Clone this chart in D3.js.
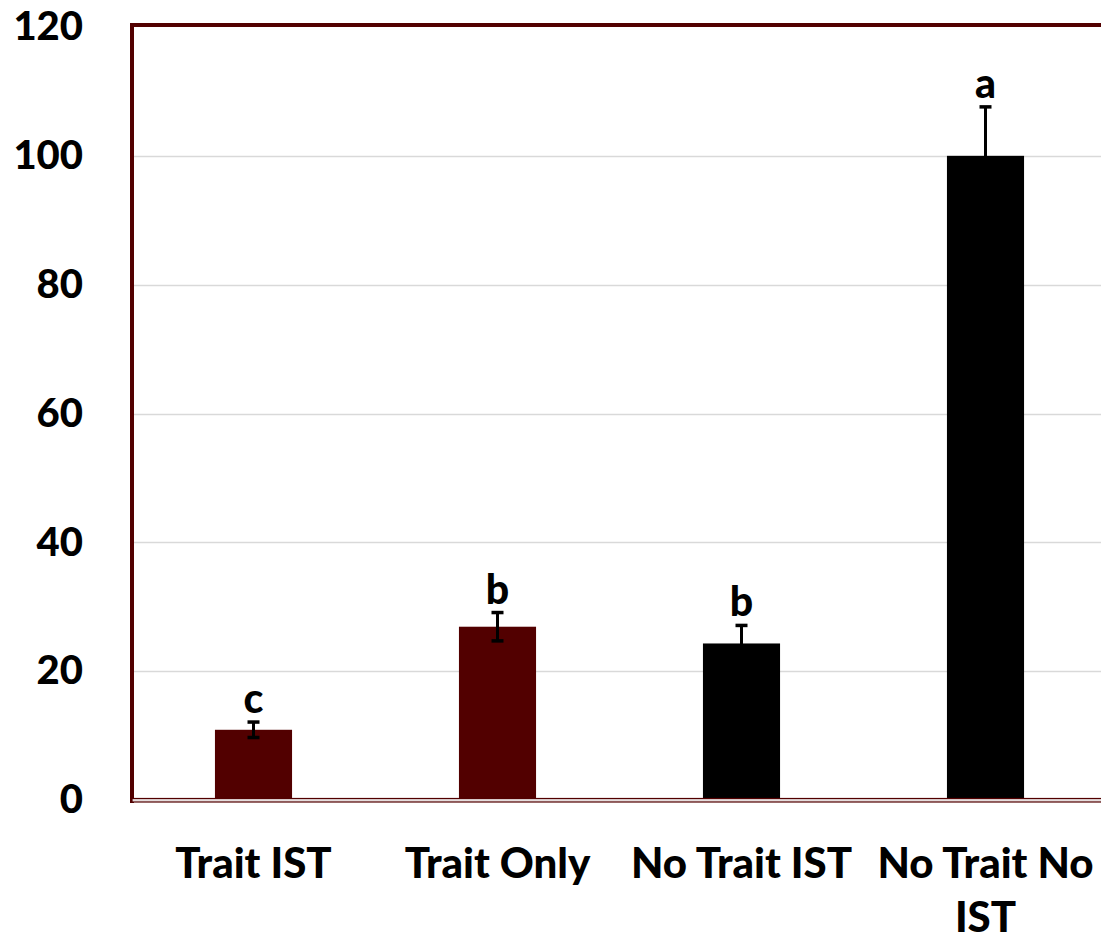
<!DOCTYPE html>
<html>
<head>
<meta charset="utf-8">
<script src="https://cdn.jsdelivr.net/npm/d3@7"></script>
<style>
  html, body { margin: 0; padding: 0; background: #ffffff; }
  svg { display: block; }
  text { font-family: Lato, "Open Sans", sans-serif; font-weight: 900; fill: #000; }
</style>
</head>
<body>
<svg id="chart" width="1101" height="940"></svg>
<script>
const categories = ["Trait IST", "Trait Only", "No Trait IST", "No Trait No IST"];
const values = [10.9, 26.9, 24.3, 100];
const errors = [1.2, 2.2, 2.8, 7.6];
const letters = ["c", "b", "b", "a"];
const barColors = ["#520000", "#520000", "#000000", "#000000"];
const yTicks = [0, 20, 40, 60, 80, 100, 120];

const svg = d3.select("#chart");
const W = 1101, H = 940;
const plot = { left: 134, top: 27, right: 1107.5, bottom: 800 };
const borderColor = "#520000";

const y = d3.scaleLinear().domain([0, 120]).range([plot.bottom, plot.top]);
const x = d3.scaleBand().domain(categories)
  .range([131.5, 1107.5]).paddingInner(0.684).paddingOuter(0.342);

// gridlines
svg.append("g").selectAll("line").data(yTicks.filter(d => d > 0 && d < 120)).join("line")
  .attr("x1", plot.left).attr("x2", W)
  .attr("y1", d => Math.round(y(d)) + 0.5).attr("y2", d => Math.round(y(d)) + 0.5)
  .attr("stroke", "#d9d9d9").attr("stroke-width", 1.5);

// y axis labels
const yAxis = d3.axisLeft(y).tickValues(yTicks).tickSize(0).tickPadding(0);
const gy = svg.append("g").attr("transform", "translate(83,0)").call(yAxis);
gy.select(".domain").remove();
gy.selectAll("text").attr("font-size", 40).attr("font-family", "Lato, sans-serif")
  .attr("font-weight", 900).attr("fill", "#000").attr("dy", "0.32em");

// bars
svg.append("g").selectAll("rect").data(categories).join("rect")
  .attr("x", d => x(d)).attr("width", x.bandwidth())
  .attr("y", (d, i) => y(values[i])).attr("height", (d, i) => y(0) - y(values[i]))
  .attr("fill", (d, i) => barColors[i]);

// error bars
const eb = svg.append("g").attr("stroke", "#000");
categories.forEach((c, i) => {
  const cx = x(c) + x.bandwidth() / 2;
  const y1 = y(values[i] + errors[i]), y0 = y(values[i] - errors[i]);
  eb.append("line").attr("x1", cx).attr("x2", cx).attr("y1", y1).attr("y2", y0).attr("stroke-width", 3);
  eb.append("line").attr("x1", cx - 6).attr("x2", cx + 6).attr("y1", y1).attr("y2", y1).attr("stroke-width", 3.5);
  eb.append("line").attr("x1", cx - 6).attr("x2", cx + 6).attr("y1", y0).attr("y2", y0).attr("stroke-width", 3.5);
});

// significance letters
svg.append("g").selectAll("text").data(categories).join("text")
  .attr("x", d => x(d) + x.bandwidth() / 2)
  .attr("y", (d, i) => y(values[i] + errors[i]) - 9)
  .attr("text-anchor", "middle").attr("font-size", 41)
  .text((d, i) => letters[i]);

// frame: left and top border
svg.append("path")
  .attr("d", `M${plot.left - 2},${plot.bottom + 3} V${plot.top - 2} H${W}`)
  .attr("fill", "none").attr("stroke", borderColor).attr("stroke-width", 4);

// bottom axis double line
svg.append("rect")
  .attr("x", plot.left - 2).attr("y", plot.bottom - 1.5)
  .attr("width", W - plot.left + 4).attr("height", 3.5)
  .attr("fill", "#e6dede").attr("stroke", borderColor).attr("stroke-width", 1.2);

// x labels with wrapping
const gx = svg.append("g");
categories.forEach(c => {
  const cx = x(c) + x.bandwidth() / 2;
  const t = gx.append("text").attr("x", cx).attr("y", 878)
    .attr("text-anchor", "middle").attr("font-size", 42);
  const words = c.split(" ");
  let line = [];
  let tspan = t.append("tspan").attr("x", cx).attr("dy", 0);
  words.forEach(w => {
    line.push(w);
    tspan.text(line.join(" "));
    if (tspan.node().getComputedTextLength() > x.step() - 4 && line.length > 1) {
      line.pop();
      tspan.text(line.join(" "));
      line = [w];
      tspan = t.append("tspan").attr("x", cx).attr("dy", 54).text(w);
    }
  });
});
</script>
</body>
</html>
